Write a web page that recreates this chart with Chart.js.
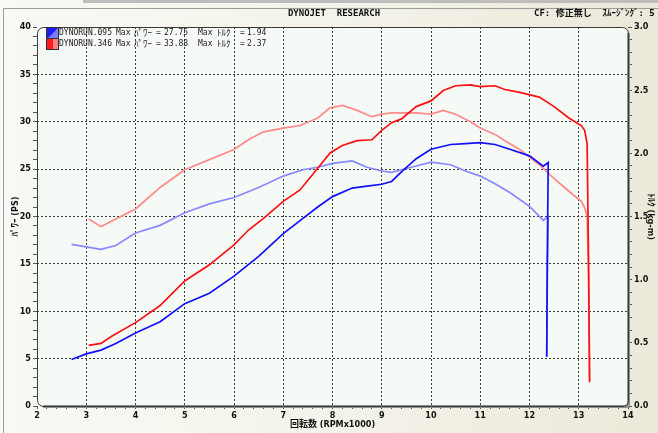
<!DOCTYPE html>
<html>
<head>
<meta charset="utf-8">
<script src="https://cdn.jsdelivr.net/npm/chart.js@4.4.1/dist/chart.umd.min.js"></script>
<style>
  html, body { margin: 0; padding: 0; background: #f3f2ea; }
  canvas { display: block; }
</style>
</head>
<body>
<canvas id="chart" width="658" height="433"></canvas>
<script>
// run 095 (blue) - rpm x1000, power PS, torque kg-m
const rpm095 = [2.7, 3.0, 3.3, 3.6, 4.0, 4.5, 5.0, 5.5, 6.0, 6.5, 7.0, 7.4, 7.7, 8.0, 8.4, 8.7, 9.0, 9.2, 9.4, 9.7, 10.0, 10.4, 10.7, 11.0, 11.3, 11.6, 12.0, 12.28, 12.38, 12.36, 12.35];
const power095 = [4.9, 5.5, 5.9, 6.6, 7.7, 8.9, 10.8, 11.9, 13.7, 15.8, 18.2, 19.8, 21.0, 22.1, 23.0, 23.2, 23.4, 23.7, 24.7, 26.1, 27.1, 27.6, 27.7, 27.8, 27.6, 27.1, 26.4, 25.3, 25.7, 15.0, 5.2];
const torque095 = [1.28, 1.26, 1.24, 1.27, 1.37, 1.43, 1.53, 1.60, 1.65, 1.73, 1.82, 1.87, 1.89, 1.92, 1.94, 1.89, 1.86, 1.85, 1.87, 1.90, 1.93, 1.91, 1.86, 1.82, 1.76, 1.69, 1.58, 1.47, 1.50, 0.90, 0.39];

// run 346 (red)
const rpm346 = [3.05, 3.3, 3.5, 4.0, 4.5, 5.0, 5.5, 6.0, 6.3, 6.6, 7.0, 7.34, 7.7, 7.95, 8.2, 8.5, 8.8, 9.0, 9.2, 9.4, 9.7, 10.0, 10.25, 10.5, 10.8, 11.0, 11.3, 11.5, 11.8, 12.2, 12.5, 12.8, 13.05, 13.12, 13.17, 13.2, 13.22];
const power346 = [6.4, 6.6, 7.3, 8.8, 10.6, 13.2, 14.9, 17.0, 18.6, 19.8, 21.6, 22.8, 25.1, 26.7, 27.5, 28.0, 28.1, 29.1, 29.9, 30.3, 31.6, 32.2, 33.3, 33.8, 33.9, 33.7, 33.8, 33.4, 33.1, 32.6, 31.6, 30.4, 29.6, 29.1, 27.7, 15.0, 2.5];
const torque346 = [1.48, 1.42, 1.46, 1.56, 1.73, 1.87, 1.95, 2.03, 2.11, 2.17, 2.20, 2.22, 2.28, 2.36, 2.38, 2.34, 2.29, 2.31, 2.32, 2.32, 2.32, 2.31, 2.34, 2.31, 2.25, 2.20, 2.15, 2.10, 2.03, 1.91, 1.80, 1.70, 1.62, 1.57, 1.50, 1.00, 0.20];

const runNames = ['DYNORUN.095', 'DYNORUN.346'];
const maxPower = ['27.75', '33.88'];
const maxTorque = ['1.94', '2.37'];

// axis ranges / tick steps
const xMin = 2, xMax = 14, xMinor = 0.2;
const pMin = 0, pMax = 40, pMinor = 1, pMajor = 5;
const tMin = 0, tMax = 3, tMinor = 0.1, tMajor = 0.5;

const tickFont = { family: '"DejaVu Sans Condensed", "DejaVu Sans"', size: 9, weight: 'bold' };
const titleFont = { family: '"DejaVu Sans Condensed", "Noto Sans CJK JP"', size: 9, weight: 'bold' };
const gridCol = '#3c3c3c';
const none = 'rgba(0,0,0,0)';

function pts(xs, ys) {
  return xs.map((x, i) => ({ x: x, y: ys[i] }));
}
function isStep(v, step) {
  const k = v / step;
  return Math.abs(k - Math.round(k)) < 1e-6;
}

// background, plot box, header and legend
const frame = {
  id: 'frame',
  beforeDraw(chart) {
    const { ctx, chartArea: a, width, height } = chart;
    ctx.save();
    const g = ctx.createLinearGradient(0, 0, width, 0);
    g.addColorStop(0, '#f9f9f5');
    g.addColorStop(0.5, '#f4f3ea');
    g.addColorStop(1, '#ebe9d9');
    ctx.fillStyle = g;
    ctx.fillRect(0, 0, width, height);
    ctx.fillStyle = '#bdbdbd';
    ctx.fillRect(83, 0, width - 83, 3);
    ctx.strokeStyle = '#9c9c9c';
    ctx.lineWidth = 1;
    ctx.beginPath();
    ctx.moveTo(3.5, height);
    ctx.lineTo(3.5, 8.5);
    ctx.lineTo(width, 8.5);
    ctx.stroke();
    ctx.fillStyle = '#f6faf7';
    ctx.beginPath();
    ctx.roundRect(a.left, a.top, a.right - a.left, a.bottom - a.top, 6);
    ctx.fill();
    ctx.restore();
  },
  afterDatasetsDraw(chart) {
    const { ctx, chartArea: a } = chart;
    ctx.save();
    // thick grey right/bottom edge
    ctx.strokeStyle = '#8e8e8e';
    ctx.lineWidth = 3;
    ctx.beginPath();
    ctx.moveTo(a.right + 0.5, a.top + 6);
    ctx.lineTo(a.right + 0.5, a.bottom + 0.5);
    ctx.lineTo(a.left + 6, a.bottom + 0.5);
    ctx.stroke();
    ctx.strokeStyle = '#3a3a3a';
    ctx.lineWidth = 1;
    ctx.beginPath();
    ctx.roundRect(a.left + 0.5, a.top + 0.5, a.right - a.left, a.bottom - a.top, 6);
    ctx.stroke();

    // header
    ctx.fillStyle = '#111';
    ctx.textBaseline = 'middle';
    ctx.font = 'bold 9px "DejaVu Sans Mono", "Noto Sans CJK JP"';
    ctx.textAlign = 'center';
    ctx.fillText('DYNOJET  RESEARCH', 334, 14);
    ctx.textAlign = 'left';
    ctx.fillText('CF: 修正無し  ｽﾑｰｼﾞﾝｸﾞ: 5', 534, 14);

    // legend swatches
    ctx.fillStyle = '#1c1cff';
    ctx.fillRect(47, 28, 11, 10);
    ctx.fillStyle = '#7c7cff';
    ctx.beginPath();
    ctx.moveTo(58, 28); ctx.lineTo(58, 38); ctx.lineTo(48, 38);
    ctx.closePath();
    ctx.fill();
    ctx.fillStyle = '#ff1c1c';
    ctx.fillRect(47, 39, 6, 10);
    ctx.fillStyle = '#ff8080';
    ctx.fillRect(53, 39, 5, 10);
    ctx.strokeStyle = '#333';
    ctx.strokeRect(46.5, 27.5, 12, 11);
    ctx.strokeRect(46.5, 38.5, 12, 11);

    // legend text, laid out in the same columns as the dyno printout
    ctx.fillStyle = '#1a1a1a';
    const mono = '8px "DejaVu Sans Mono", "Noto Sans CJK JP"';
    const kana = '9px "Noto Sans CJK JP"';
    [33, 44].forEach((y, i) => {
      ctx.font = mono;
      ctx.fillText(runNames[i], 59, y);
      ctx.fillText('Max', 116, y);
      ctx.fillText('=', 156, y);
      ctx.fillText(maxPower[i], 164, y);
      ctx.fillText('Max', 198, y);
      ctx.fillText('=', 240, y);
      ctx.fillText(maxTorque[i], 247, y);
      ctx.font = kana;
      ctx.fillText('ﾊﾟﾜｰ', 134, y);
      ctx.fillText('ﾄﾙｸ', 217, y);
    });
    ctx.restore();
  }
};

const line = { pointRadius: 0, borderWidth: 1.7, tension: 0, fill: false };

new Chart(document.getElementById('chart'), {
  type: 'line',
  data: {
    datasets: [
      Object.assign({ label: runNames[0] + ' power', data: pts(rpm095, power095), borderColor: '#1010ff', yAxisID: 'y' }, line),
      Object.assign({ label: runNames[1] + ' power', data: pts(rpm346, power346), borderColor: '#ff1010', yAxisID: 'y' }, line),
      Object.assign({ label: runNames[0] + ' torque', data: pts(rpm095, torque095), borderColor: '#8888ff', yAxisID: 'y2' }, line),
      Object.assign({ label: runNames[1] + ' torque', data: pts(rpm346, torque346), borderColor: '#ff8a8a', yAxisID: 'y2' }, line),
    ],
  },
  options: {
    responsive: false,
    animation: false,
    layout: { padding: { top: 27, left: 0, right: 0, bottom: 0 } },
    plugins: { legend: { display: false }, tooltip: { enabled: false } },
    scales: {
      x: {
        type: 'linear',
        min: xMin,
        max: xMax,
        afterFit: (s) => { s.height = 27; },
        ticks: {
          stepSize: xMinor,
          autoSkip: false,
          maxRotation: 0,
          padding: 1,
          color: '#111',
          font: tickFont,
          callback: (v) => (isStep(v, 1) ? String(Math.round(v)) : ''),
        },
        grid: {
          color: (c) => (isStep(c.tick.value, 1) && c.tick.value > xMin && c.tick.value < xMax ? gridCol : none),
          tickColor: '#555',
          tickLength: 3,
        },
        border: { display: false, dash: [2, 2] },
        title: { display: true, text: '回転数 (RPMx1000)', color: '#111', font: titleFont, padding: { top: 0, bottom: 3 } },
      },
      y: {
        type: 'linear',
        position: 'left',
        min: pMin,
        max: pMax,
        afterFit: (s) => { s.width = 37; },
        ticks: {
          stepSize: pMinor,
          autoSkip: false,
          padding: 2,
          color: '#111',
          font: tickFont,
          callback: (v) => (isStep(v, pMajor) ? String(Math.round(v)) : ''),
        },
        grid: {
          color: (c) => (isStep(c.tick.value, pMajor) && c.tick.value > pMin && c.tick.value < pMax ? gridCol : none),
          tickColor: '#555',
          tickLength: 4,
        },
        border: { display: false, dash: [2, 2] },
        title: { display: true, text: 'ﾊﾟﾜｰ (PS)', color: '#111', font: titleFont, padding: { top: 10, bottom: 0 } },
      },
      y2: {
        type: 'linear',
        position: 'right',
        min: tMin,
        max: tMax,
        afterFit: (s) => { s.width = 30; },
        ticks: {
          stepSize: tMinor,
          autoSkip: false,
          padding: 2,
          color: '#111',
          font: tickFont,
          callback: (v) => (isStep(v, tMajor) ? v.toFixed(1) : ''),
        },
        grid: { drawOnChartArea: false, tickColor: '#555', tickLength: 4 },
        border: { display: false },
        title: { display: true, text: 'ﾄﾙｸ (kg-m)', color: '#111', font: titleFont, padding: { top: 2, bottom: 0 } },
      },
    },
  },
  plugins: [frame],
});
</script>
</body>
</html>
